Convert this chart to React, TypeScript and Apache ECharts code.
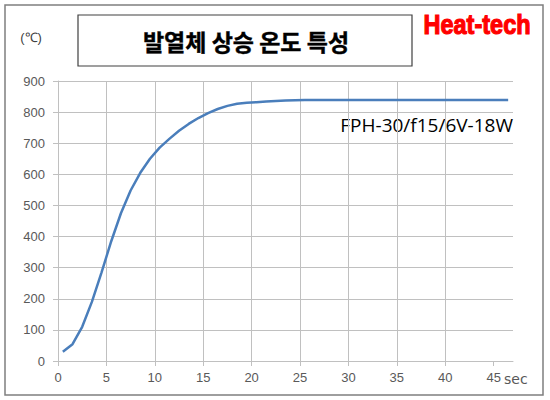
import React, { useEffect, useRef } from "react";
import * as echarts from "echarts";

const timeSec = [
  0.5, 1.5, 2.5, 3.5, 4.5, 5.5, 6.5, 7.5, 8.5, 9.5, 10.5, 11.5, 12.5, 13.5, 14.5, 15.5,
  16.5, 17.5, 18.5, 19.5, 20.5, 21.5, 22.5, 23.5, 24.5, 25.5, 26.5, 27.5, 28.5, 29.5,
  30.5, 31.5, 32.5, 33.5, 34.5, 35.5, 36.5, 37.5, 38.5, 39.5, 40.5, 41.5, 42.5, 43.5,
  44.5, 45.5, 46.5,
];
const tempC = [
  30, 54, 110, 190, 285, 385, 475, 548, 605, 650, 686, 714, 740, 762, 781, 797,
  810, 820, 827, 830, 832, 834, 836, 837, 838, 839, 839, 839, 839, 839,
  839, 839, 839, 839, 839, 839, 839, 839, 839, 839, 839, 839, 839, 839,
  839, 839, 839,
];
const xTicks = [0, 5, 10, 15, 20, 25, 30, 35, 40, 45];
const titleText = "발열체 상승 온도 특성";
const brandText = "Heat-tech";
const seriesLabel = "FPH-30/f15/6V-18W";
const yUnit = "(℃)";
const xUnit = "sec";

export default function App() {
  const ref = useRef<HTMLDivElement>(null);
  useEffect(() => {
    if (!ref.current) return;
    const chart = echarts.init(ref.current, null, { renderer: "svg" });
    const grey = "#c0c0c0";
    const labelColor = "#595959";
    const labelFont = "'Liberation Sans', Arial, sans-serif";
    chart.setOption({
      animation: false,
      backgroundColor: "#ffffff",
      grid: { left: 58, right: 37, top: 81, bottom: 39, containLabel: false },
      xAxis: {
        type: "value",
        min: 0,
        max: 47,
        interval: 5,
        axisLine: { show: true, lineStyle: { color: grey, width: 1 } },
        axisTick: { show: true, length: 5, lineStyle: { color: grey }, customValues: xTicks },
        axisLabel: {
          color: labelColor,
          fontSize: 13,
          fontFamily: labelFont,
          margin: 10,
          customValues: xTicks,
        },
        splitLine: { show: true, showMaxLine: false, lineStyle: { color: grey, width: 1 } },
      },
      yAxis: {
        type: "value",
        min: 0,
        max: 900,
        interval: 100,
        axisLine: { show: true, lineStyle: { color: grey, width: 1 } },
        axisTick: { show: true, length: 5, lineStyle: { color: grey } },
        axisLabel: { color: labelColor, fontSize: 13, fontFamily: labelFont, margin: 13 },
        splitLine: { show: true, lineStyle: { color: grey, width: 1 } },
      },
      series: [
        {
          type: "line",
          data: timeSec.map((t, i) => [t, tempC[i]]),
          showSymbol: false,
          smooth: false,
          lineStyle: { color: "#4a7ebb", width: 2.5 },
        },
      ],
      graphic: [
        {
          type: "rect",
          shape: { x: 5, y: 5, width: 538, height: 390 },
          style: { fill: "none", stroke: "#7f7f7f", lineWidth: 1.5 },
          silent: true,
        },
        {
          type: "rect",
          shape: { x: 78, y: 15, width: 334, height: 51 },
          style: { fill: "#ffffff", stroke: "#404040", lineWidth: 1.2 },
          silent: true,
        },
        {
          type: "text",
          x: 246,
          y: 41,
          style: {
            text: titleText,
            fill: "#000000",
            stroke: "#000000",
            lineWidth: 0.4,
            font: "bold 23px 'Noto Sans CJK KR', sans-serif",
            align: "center",
            verticalAlign: "middle",
          },
        },
        {
          type: "text",
          x: 477,
          y: 24,
          scaleX: 0.84,
          style: {
            text: brandText,
            fill: "#ff0000",
            stroke: "#ff0000",
            lineWidth: 1.2,
            font: "bold 28px 'Liberation Sans', Arial, sans-serif",
            align: "center",
            verticalAlign: "middle",
          },
        },
        {
          type: "text",
          x: 31,
          y: 37,
          style: {
            text: yUnit,
            fill: "#404040",
            font: "13px 'Liberation Sans', Arial, sans-serif",
            align: "center",
            verticalAlign: "middle",
          },
        },
        {
          type: "text",
          x: 504,
          y: 379,
          style: {
            text: xUnit,
            fill: labelColor,
            font: "14px 'DejaVu Sans', sans-serif",
            align: "left",
            verticalAlign: "middle",
          },
        },
        {
          type: "text",
          x: 513,
          y: 125,
          style: {
            text: seriesLabel,
            fill: "#000000",
            font: "19px 'Open Sans', 'Noto Sans', sans-serif",
            align: "right",
            verticalAlign: "middle",
          },
        },
      ],
    });
    return () => chart.dispose();
  }, []);
  return <div ref={ref} style={{ width: 550, height: 400, position: "absolute", left: 0, top: 0 }} />;
}
